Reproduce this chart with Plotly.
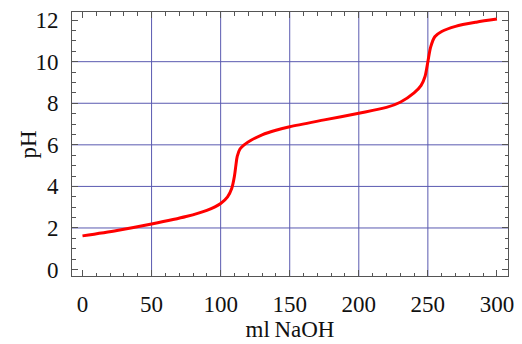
import plotly.graph_objects as go

ml_naoh = [0, 25, 50, 75, 90, 100, 105, 108, 110, 111, 112, 114, 117, 122, 130, 140, 150,
           175, 200, 220, 230, 240, 245, 248, 250, 252, 255, 260, 270, 285, 300]
ph = [1.62, 1.88, 2.19, 2.55, 2.85, 3.18, 3.5, 3.9, 4.5, 5.0, 5.45, 5.8, 6.0, 6.22, 6.48,
      6.7, 6.87, 7.2, 7.52, 7.8, 8.05, 8.5, 8.85, 9.3, 10.0, 10.7, 11.2, 11.45, 11.7, 11.9, 12.05]

x_ticks = [0, 50, 100, 150, 200, 250, 300]
y_ticks = [0, 2, 4, 6, 8, 10, 12]
x_grid = [50, 100, 150, 200, 250]
y_grid = [2, 4, 6, 8, 10]

font = "Liberation Serif"
grid_color = "#5a5ab0"
frame_color = "#555555"

fig = go.Figure()
fig.add_trace(go.Scatter(x=ml_naoh, y=ph, mode="lines",
                         line=dict(color="#ff0000", width=3, shape="spline", smoothing=0.8),
                         hoverinfo="skip", showlegend=False))

shapes = []
for gx in x_grid:
    shapes.append(dict(type="line", xref="x", yref="paper", x0=gx, x1=gx, y0=0, y1=1,
                       line=dict(color=grid_color, width=1), layer="below"))
for gy in y_grid:
    shapes.append(dict(type="line", xref="paper", yref="y", x0=0, x1=1, y0=gy, y1=gy,
                       line=dict(color=grid_color, width=1), layer="below"))

axis_common = dict(showgrid=False, zeroline=False, showline=True, linecolor=frame_color,
                   linewidth=1, mirror="allticks", ticks="inside", ticklen=6, tickwidth=1,
                   tickcolor=frame_color, tickfont=dict(family=font, size=23, color="#111"),
                   title_font=dict(family=font, size=23, color="#111"))

fig.update_layout(
    width=522, height=344,
    margin=dict(l=72, r=8, t=8, b=63),
    paper_bgcolor="white", plot_bgcolor="white",
    shapes=shapes,
    xaxis=dict(range=[-7.6, 308], tickvals=x_ticks, ticktext=[str(v) for v in x_ticks],
               title=dict(text="ml\u2009NaOH", standoff=3), ticklabelstandoff=7,
               minor=dict(dtick=10, ticks="inside", ticklen=3.5, tickcolor=frame_color, showgrid=False),
               **axis_common),
    yaxis=dict(range=[-0.31, 12.39], tickvals=y_ticks, ticktext=[str(v) for v in y_ticks],
               ticklabelstandoff=8,
               minor=dict(dtick=0.5, ticks="inside", ticklen=3.5, tickcolor=frame_color, showgrid=False),
               **axis_common),
    annotations=[dict(text="pH", xref="paper", yref="paper", x=-0.1, y=0.5,
                      xanchor="center", yanchor="middle", textangle=-90, showarrow=False,
                      font=dict(family=font, size=23, color="#111"))],
)

fig.write_html("out.html", config={"displayModeBar": False},
               post_script="document.body.style.margin='0';")
